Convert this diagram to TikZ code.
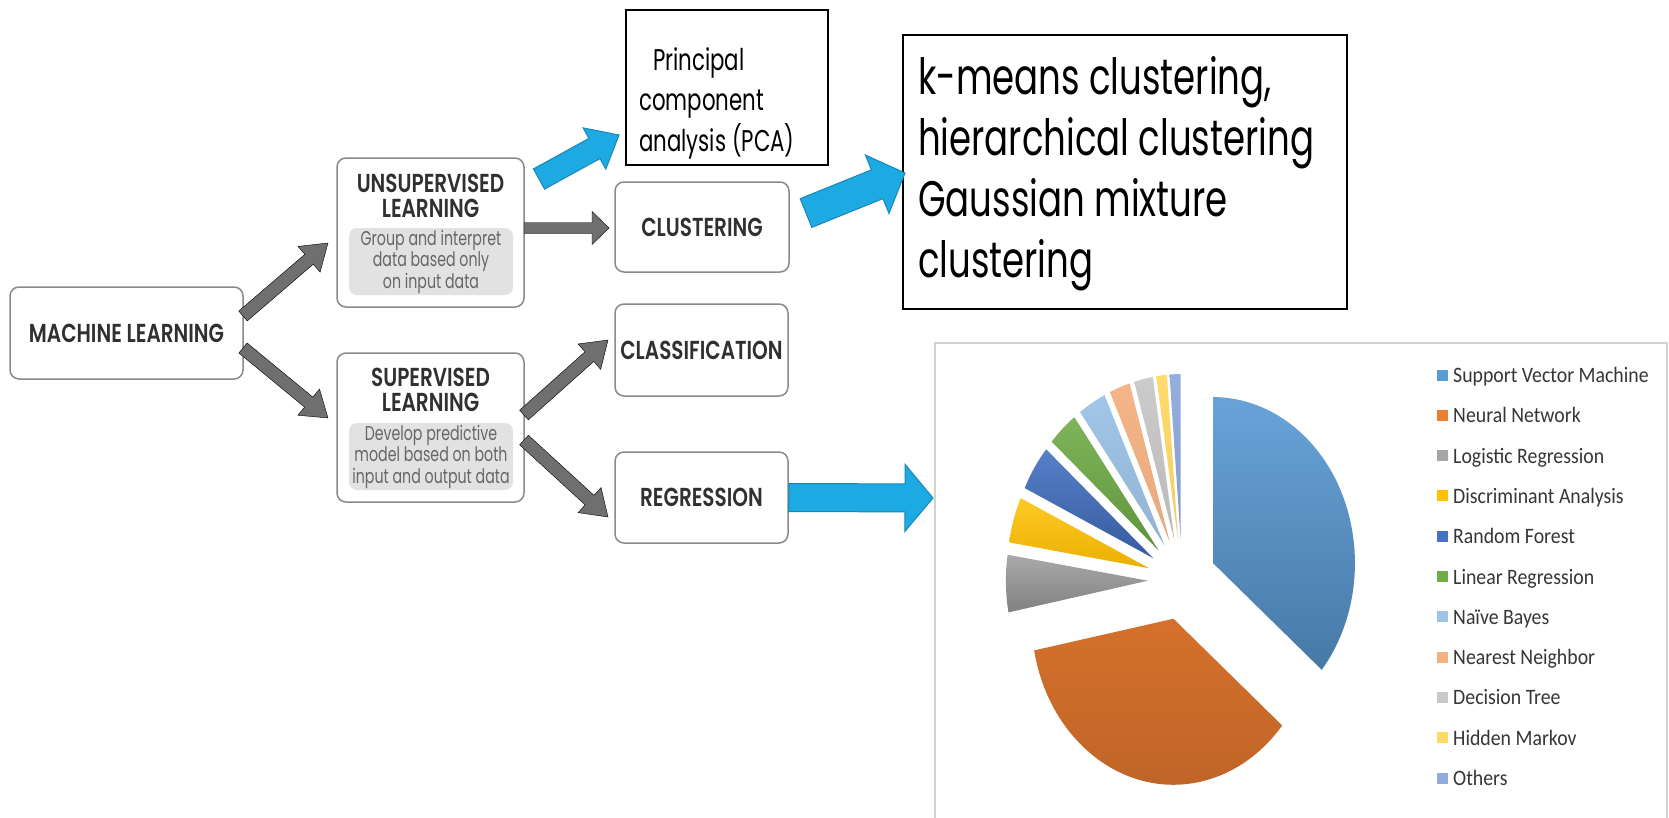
\documentclass[tikz,border=0pt]{standalone}
\usepackage{fontspec}
\usetikzlibrary{calc}
\newfontfamily\geo[FakeStretch=0.71]{Poppins}
\newfontfamily\geohead{Poppins}[UprightFont=* SemiBold, FakeStretch=0.77]
\newfontfamily\legendfont[FakeStretch=0.9]{Carlito}

\definecolor{arrowgray}{HTML}{6F6F6F}
\definecolor{boxborder}{HTML}{8A8A8A}
\definecolor{titletext}{HTML}{303030}
\definecolor{desctext}{HTML}{666666}
\definecolor{descfill}{HTML}{E2E2E2}
\definecolor{cyanfill}{HTML}{1DA9E1}
\definecolor{cyanedge}{HTML}{1787B8}
\definecolor{frameline}{HTML}{D2D2D2}
\definecolor{legendink}{HTML}{363636}
% chart palette
\definecolor{kSVM}{HTML}{5B9BD5}
\definecolor{kNN}{HTML}{ED7D31}
\definecolor{kLog}{HTML}{A5A5A5}
\definecolor{kDA}{HTML}{FFC000}
\definecolor{kRF}{HTML}{4472C4}
\definecolor{kLin}{HTML}{70AD47}
\definecolor{kNB}{HTML}{9DC3E6}
\definecolor{kNear}{HTML}{F4B183}
\definecolor{kDT}{HTML}{C9C9C9}
\definecolor{kHM}{HTML}{FFD966}
\definecolor{kOth}{HTML}{8FAADC}

\tikzset{
  roundbox/.style={draw=boxborder, line width=1.5pt, rounded corners=9pt, fill=white, inner sep=0pt},
  headfont/.style={font=\geohead\fontsize{26}{25}\selectfont, text=titletext},
  boxtitle/.style={headfont, align=center, inner sep=0pt},
  descbox/.style={fill=descfill, rounded corners=8pt, inner sep=0pt, align=center,
    font=\geo\fontsize{20}{21.5}\selectfont, text=desctext},
  plainbox/.style={draw=black, line width=1.3pt, inner sep=0pt},
  grayarrow/.style={fill=arrowgray},
  cyanarrow/.style={fill=cyanfill, draw=cyanedge, line width=1pt, line join=miter},
  legendkey/.style={minimum size=11pt, inner sep=0pt},
  legendlabel/.style={font=\legendfont\fontsize{22}{22}\selectfont, text=legendink, anchor=base west, inner sep=0pt},
}

% block arrow: style, from, to, shaft half width, head half width, head length
\newcommand\blockarrow[6]{%
  \path ($(#3)!#6!(#2)$) coordinate (ba-h);
  \filldraw[#1] ($(#2)!#4!90:(#3)$) -- ($(ba-h)!#4!90:(#3)$) -- ($(ba-h)!#5!90:(#3)$)
    -- (#3) -- ($(ba-h)!#5!-90:(#3)$) -- ($(ba-h)!#4!-90:(#3)$) -- ($(#2)!#4!-90:(#3)$) -- cycle;
}

% exploded pie slice: start angle, end angle, top colour, bottom colour
\newcommand\pieslice[4]{%
  \pgfmathsetmacro\pmid{(#1+#2)/2}
  \shade[top color=#3, bottom color=#4] (\pmid:40) -- ++(#1:166)
    arc[start angle=#1, end angle=#2, radius=166] -- cycle;
}

\begin{document}
\begin{tikzpicture}[x=1pt, y=-1pt]
\useasboundingbox (0,0) rectangle (1669,817);
\clip (0,0) rectangle (1669,817);
\fill[white] (0,0) rectangle (1669,817);

% ---- flow boxes ----
\node[roundbox, headfont, minimum width=233pt, minimum height=92pt] (ml) at (126.5,333) {MACHINE LEARNING};

\node[roundbox, minimum width=187pt, minimum height=149pt] (unsup) at (430.5,232.5) {};
\node[boxtitle] (unsupT) at (430.5,195.5) {UNSUPERVISED\\LEARNING};
\node[descbox, minimum width=164pt, minimum height=67pt] (unsupD) at (431,261.5) {Group and interpret\\data based only\\on input data};

\node[roundbox, minimum width=187pt, minimum height=149pt] (sup) at (430.5,427.5) {};
\node[boxtitle] (supT) at (430.5,389.5) {SUPERVISED\\LEARNING};
\node[descbox, minimum width=164pt, minimum height=67pt] (supD) at (431,456.5) {Develop predictive\\model based on both\\input and output data};

\node[roundbox, headfont, minimum width=174pt, minimum height=90pt] (clu) at (702,227) {CLUSTERING};
\node[roundbox, headfont, minimum width=173pt, minimum height=92pt] (cla) at (701.5,350) {CLASSIFICATION};
\node[roundbox, headfont, minimum width=173pt, minimum height=91pt] (reg) at (701.5,497.5) {REGRESSION};

% ---- text boxes ----
\node[plainbox, minimum width=202pt, minimum height=155pt] (pca) at (727,87.5) {};
\node[anchor=north west, inner sep=0pt, align=left, font=\geo\fontsize{30}{40.5}\selectfont] (pcaT) at (639,47)
  {\hspace*{14pt}Principal\\component\\analysis (PCA)};

\node[plainbox, minimum width=444pt, minimum height=274pt] (km) at (1125,172) {};
\node[anchor=north west, inner sep=0pt, align=left, font=\geo\fontsize{50}{61}\selectfont] (kmT) at (918,56)
  {k-means clustering,\\hierarchical clustering\\Gaussian mixture\\clustering};

% ---- gray connectors ----
\coordinate (mlA) at (243,316);  \coordinate (unsupIn) at (328,243);
\coordinate (mlB) at (243,348);  \coordinate (supIn) at (328,418);
\coordinate (unsupOut) at (524,228); \coordinate (cluIn) at (609,228);
\coordinate (supOutA) at (524,415); \coordinate (claIn) at (608,340);
\coordinate (supOutB) at (524,440); \coordinate (regIn) at (608,517);
\blockarrow{grayarrow}{mlA}{unsupIn}{6.5pt}{17pt}{25pt}
\blockarrow{grayarrow}{mlB}{supIn}{6.5pt}{17pt}{25pt}
\blockarrow{grayarrow}{unsupOut}{cluIn}{5.5pt}{16.5pt}{17pt}
\blockarrow{grayarrow}{supOutA}{claIn}{6.5pt}{17pt}{25pt}
\blockarrow{grayarrow}{supOutB}{regIn}{6.5pt}{17pt}{25pt}

% ---- cyan connectors ----
\coordinate (pcaFrom) at (539,179); \coordinate (pcaIn) at (619,135);
\coordinate (kmFrom) at (806,213);  \coordinate (kmIn) at (905,173);
\coordinate (chartIn) at (933,498);
\blockarrow{cyanarrow}{pcaFrom}{pcaIn}{11.5pt}{23.5pt}{28pt}
\blockarrow{cyanarrow}{kmFrom}{kmIn}{15.5pt}{31.5pt}{30pt}
\blockarrow{cyanarrow}{reg.east}{chartIn}{14pt}{33.5pt}{28pt}

% ---- chart frame ----
\draw[frameline, line width=1.5pt] (935,830) -- (935,343) -- (1667,343) -- (1667,830);

% ---- pie ----
\begin{scope}[shift={(1182,580)}, x=0.855pt, y=1pt]
  \pieslice{-40}{90}{kSVM!92!white}{kSVM!78!black}
  \pieslice{191}{320}{kNN!90!black}{kNN!80!black}
  \pieslice{171}{191}{kLog!95!white}{kLog!78!black}
  \pieslice{155}{171}{kDA!85!white}{kDA!92!black}
  \pieslice{139}{155}{kRF!90!white}{kRF!80!black}
  \pieslice{126.5}{139}{kLin!90!white}{kLin!85!black}
  \pieslice{115}{126.5}{kNB!95!white}{kNB!92!black}
  \pieslice{106.5}{115}{kNear!95!white}{kNear!95!black}
  \pieslice{98.8}{106.5}{kDT!95!white}{kDT!92!black}
  \pieslice{94.5}{98.8}{kHM!95!white}{kHM!95!black}
  \pieslice{90}{94.5}{kOth!95!white}{kOth!92!black}
\end{scope}

% ---- legend ----
\foreach \lab/\col [count=\i from 0] in {Support Vector Machine/kSVM, Neural Network/kNN,
    Logistic Regression/kLog, Discriminant Analysis/kDA, Random Forest/kRF,
    Linear Regression/kLin, Naïve Bayes/kNB, Nearest Neighbor/kNear,
    Decision Tree/kDT, Hidden Markov/kHM, Others/kOth}{
  \node[legendkey, fill=\col] (key\i) at (1442.5,{375+40.3*\i}) {};
  \node[legendlabel] (lab\i) at ($(key\i)+(10.5,7.5)$) {\lab};
}
\end{tikzpicture}
\end{document}
